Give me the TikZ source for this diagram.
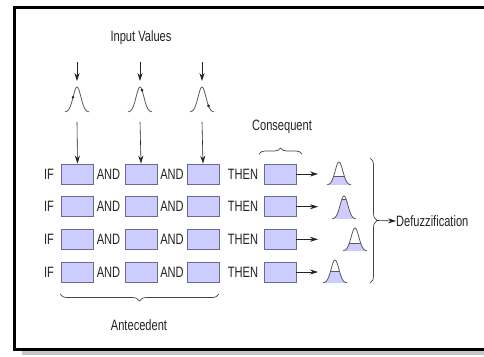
\documentclass[tikz,border=0pt]{standalone}
\usepackage{fontspec}
\setmainfont{Liberation Sans}[FakeStretch=0.74]
\usetikzlibrary{decorations.pathreplacing,arrows.meta}
\definecolor{boxfill}{RGB}{204,204,255}
\definecolor{boxline}{RGB}{105,105,150}
\definecolor{ink}{RGB}{35,35,35}
\definecolor{bellc}{RGB}{90,90,90}
\newcommand\mybellpath[3]{plot[domain=-12:12,samples=41,smooth] ({#1+\x},{#2-#3*exp(-\x*\x/30)})}
\newcommand\inbell[4]{%
  \draw[bellline] \mybellpath{#1}{#2}{#3};
  \fill[ink] ({#1+#4},{#2-#3*exp(-(#4)*(#4)/30)}) circle (1.4pt);
}
\newcommand\outbell[4]{%
  \begin{scope}
    \clip \mybellpath{#1}{#2}{#3} -- cycle;
    \fill[boxfill] ({#1-13},#2) rectangle ({#1+13},{#2-#4*#3});
    \draw[bellline] ({#1-13},{#2-#4*#3}) -- ({#1+13},{#2-#4*#3});
  \end{scope}
  \draw[bellline] \mybellpath{#1}{#2}{#3};
}
\begin{document}
\begin{tikzpicture}[x=1pt,y=-1pt,
  fbox/.style={draw=boxline, fill=boxfill, line width=0.8pt, minimum width=32pt, minimum height=20pt, inner sep=0pt},
  lbl/.style={text=ink, font=\fontsize{15}{17}\selectfont, inner sep=0pt},
  arr/.style={-{Stealth[length=8pt,width=5pt]}, line width=0.6pt, draw=ink},
  brc/.style={decorate, decoration={brace, amplitude=6pt}, draw=ink!85, line width=0.7pt},
  bellline/.style={draw=bellc, line width=0.8pt}]
\useasboundingbox (0,0) rectangle (484,356);
% frame and shadow
\fill[gray!45] (22,350.5) rectangle (500,355);
\draw[line width=3pt, draw=black] (14,7) rectangle (500,349);

% title
\node[lbl] (inval) at (141,38) {Input Values};

% input arrows and bells
\foreach \i/\cx/\d in {1/77/-4, 2/140/2, 3/202/6.5} {
  \coordinate (in\i) at (\cx,62);
  \coordinate (bt\i) at (\cx,81);
  \coordinate (bb\i) at (\cx,122);
  \draw[arr] (in\i) -- (bt\i);
  \inbell{\cx}{112}{25}{\d}
}

% rows
\foreach \r/\y in {1/174, 2/206.7, 3/239.3, 4/272} {
  \node[lbl] (if\r) at (49,\y) {IF};
  \node[fbox] (a\r1) at (77.5,\y) {};
  \node[lbl] (and\r1) at (108.5,\y) {AND};
  \node[fbox] (a\r2) at (141,\y) {};
  \node[lbl] (and\r2) at (172,\y) {AND};
  \node[fbox] (a\r3) at (203,\y) {};
  \node[lbl] (then\r) at (243,\y) {THEN};
  \node[fbox] (c\r) at (280,\y) {};
  \coordinate (o\r) at (318,\y);
  \draw[arr] (c\r.east) -- (o\r);
}

% vertical lines from bells into first row
\draw[arr] (bb1) -- (a11.north);
\draw[arr] (bb2) -- (a12.north);
\draw[arr] (bb3) -- (a13.north);

% output bells
\outbell{339}{185}{23}{0.38}
\outbell{344}{219}{23}{0.85}
\outbell{355}{251}{23}{0.32}
\outbell{335}{283}{23}{0.5}

% consequent brace and label
\node[lbl] (cons) at (282,127) {Consequent};
\coordinate (cb1) at (259,154);
\coordinate (cb2) at (302,154);
\draw[brc] (cb1) -- (cb2);

% antecedent brace and label
\coordinate (ab1) at (219,294);
\coordinate (ab2) at (60,294);
\draw[brc, decoration={brace, amplitude=7pt}] (ab1) -- (ab2);
\node[lbl] (ante) at (139,325) {Antecedent};

% defuzzification brace
\coordinate (rb1) at (370,158);
\coordinate (rb2) at (370,283);
\draw[brc, decoration={brace, amplitude=7pt}] (rb1) -- (rb2);
\coordinate (rbt) at (377,220.5);
\node[lbl, anchor=west] (defuz) at (396,221) {Defuzzification};
\draw[arr] (rbt) -- (defuz.west);
\end{tikzpicture}
\end{document}
